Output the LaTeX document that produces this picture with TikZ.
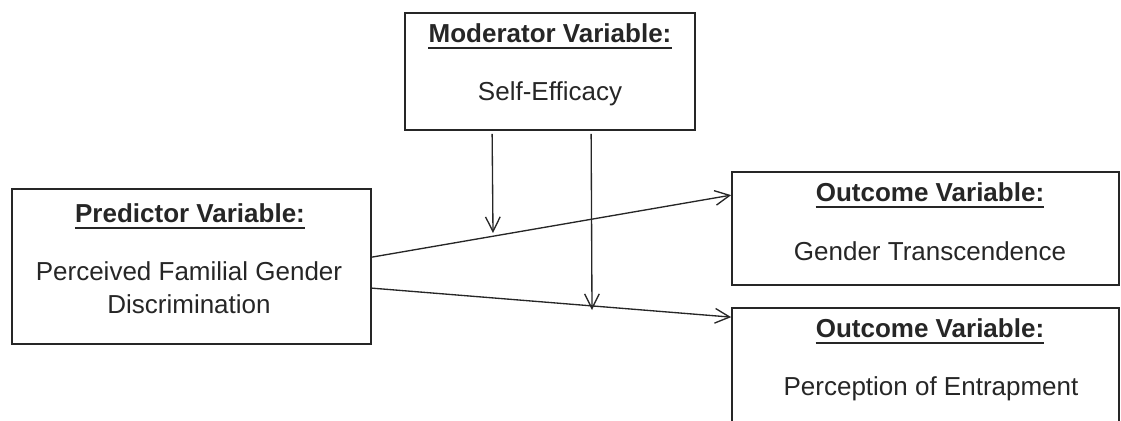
\documentclass[tikz,border=0pt]{standalone}
\usepackage{fontspec}
\setmainfont{Liberation Sans}
\usetikzlibrary{arrows.meta,calc}
\definecolor{ink}{gray}{0.15}
\tikzset{
  varbox/.style={draw=ink, line width=1.3pt, rectangle, inner sep=0pt},
  head/.style={inner sep=0pt, anchor=base, text=ink, font=\fontsize{19.5}{24}\selectfont\bfseries},
  body/.style={inner sep=0pt, anchor=base, text=ink, font=\fontsize{19.5}{24}\selectfont},
  uline/.style={draw=ink, line width=1.5pt},
  conn/.style={draw=ink, line width=1pt, -{Straight Barb[length=11pt,width=11pt]}},
}
\begin{document}
\begin{tikzpicture}[x=0.75pt,y=-0.75pt]
\useasboundingbox (0,0) rectangle (1121,421);
\clip (0,0) rectangle (1121,421);
% boxes
\node[varbox, minimum width=290*0.75pt, minimum height=117*0.75pt] (mod) at (550,71.5) {};
\node[varbox, minimum width=359*0.75pt, minimum height=155*0.75pt] (pred) at (191.5,266.5) {};
\node[varbox, minimum width=387*0.75pt, minimum height=113*0.75pt] (out1) at (925.5,228.5) {};
\node[varbox, minimum width=387*0.75pt, minimum height=132*0.75pt] (out2) at (925.5,374) {};
% texts
\node[head] (modh) at (550,42) {Moderator Variable:};
\node[body] (modb) at (550,100) {Self-Efficacy};
\node[head] (predh) at (190,222) {Predictor Variable:};
\node[body] (predb1) at (189,280) {Perceived Familial Gender};
\node[body] (predb2) at (189,313) {Discrimination};
\node[head] (out1h) at (930,201) {Outcome Variable:};
\node[body] (out1b) at (930,260) {Gender Transcendence};
\node[head] (out2h) at (930,337) {Outcome Variable:};
\node[body] (out2b) at (931,395) {Perception of Entrapment};
% underlines
\foreach \h in {modh,predh,out1h,out2h}{
  \draw[uline] ($(\h.base west)+(0,6)$) -- ($(\h.base east)+(0,6)$);
}
% connectors
\draw[conn] ($(pred.north east)+(0,69)$) -- ($(out1.north west)+(0,24)$);
\draw[conn] ($(pred.north east)+(0,100)$) -- ($(out2.north west)+(0,10)$);
\coordinate (m1) at (493,233);
\coordinate (m2) at (592,310);
\draw[conn] ($(mod.south west)+(88,3)$) -- (m1);
\draw[conn] ($(mod.south west)+(187,3)$) -- (m2);
\end{tikzpicture}
\end{document}
